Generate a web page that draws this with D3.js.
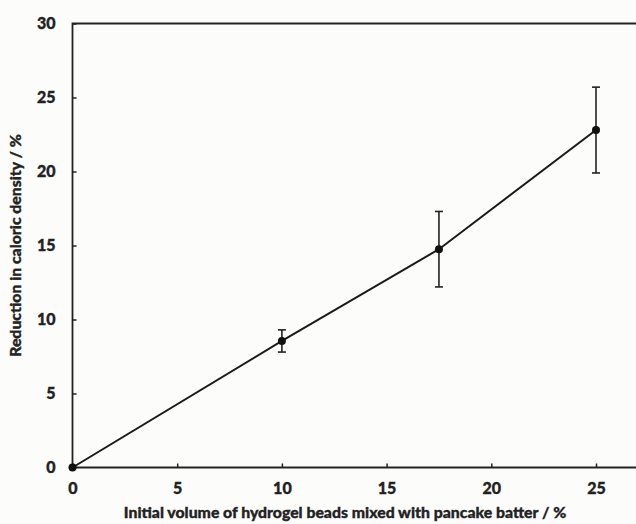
<!DOCTYPE html>
<html>
<head>
<meta charset="utf-8">
<script src="https://cdn.jsdelivr.net/npm/d3@7"></script>
<style>
  body { margin: 0; background: #fcfcfb; }
  svg { display: block; }
  text { font-family: Lato, "Open Sans", sans-serif; font-weight: 900; fill: #222; stroke: #222; stroke-width: 0.35px; }
</style>
</head>
<body>
<svg class="chart" width="636" height="524"></svg>
<script>
const volume = [0, 10, 17.5, 25];
const reduction = [0, 8.55, 14.75, 22.8];
const errors = [0, 0.75, 2.55, 2.9];
const xTicks = [0, 5, 10, 15, 20, 25];
const yTicks = [0, 5, 10, 15, 20, 25, 30];

(function drawChart(){
    const svg = d3.select("svg.chart");
    const W = +svg.attr("width");
    const left = 72.5, top = 23.5, bottom = 467.5;

    const x = d3.scaleLinear().domain([0, 25]).range([left, 596]);
    const y = d3.scaleLinear().domain([0, 30]).range([bottom, top]);
    const data = volume.map(function(v, i) { return {x: v, y: reduction[i], e: errors[i]}; });

    // axes frame (bottom, left, top) - the right side is cut off in the original
    const frame = svg.append("g").attr("stroke", "#222").attr("stroke-width", 1.8).attr("fill", "none");
    frame.append("path").attr("d", "M" + W + "," + top + "H" + left + "V" + bottom + "H" + W);

    const xAxis = svg.append("g")
        .attr("transform", "translate(0," + bottom + ")")
        .call(d3.axisBottom(x).tickValues(xTicks).tickSizeInner(-4).tickSizeOuter(0).tickPadding(15));
    xAxis.select(".domain").remove();
    xAxis.selectAll("line").attr("stroke", "#222").attr("stroke-width", 1.5);
    xAxis.selectAll("text").attr("font-size", 16).attr("fill", "#222").attr("font-family", null);

    const yAxis = svg.append("g")
        .attr("transform", "translate(" + left + ",0)")
        .call(d3.axisLeft(y).tickValues(yTicks).tickSizeInner(-4).tickSizeOuter(0).tickPadding(17));
    yAxis.select(".domain").remove();
    yAxis.selectAll("line").attr("stroke", "#222").attr("stroke-width", 1.5);
    yAxis.selectAll("text").attr("font-size", 16).attr("fill", "#222").attr("font-family", null);

    // error bars
    const eb = svg.append("g").attr("stroke", "#222").attr("stroke-width", 1.6);
    data.filter(function(d) { return d.e > 0; }).forEach(function(d) {
        const cx = x(d.x), y1 = y(d.y + d.e), y2 = y(d.y - d.e);
        eb.append("line").attr("x1", cx).attr("x2", cx).attr("y1", y1).attr("y2", y2);
        eb.append("line").attr("x1", cx - 4).attr("x2", cx + 4).attr("y1", y1).attr("y2", y1);
        eb.append("line").attr("x1", cx - 4).attr("x2", cx + 4).attr("y1", y2).attr("y2", y2);
    });

    const line = d3.line().x(function(d) { return x(d.x); }).y(function(d) { return y(d.y); });
    svg.append("path").datum(data)
        .attr("d", line)
        .attr("fill", "none")
        .attr("stroke", "#1a1a1a")
        .attr("stroke-width", 2);

    svg.selectAll(".pt").data(data).enter().append("circle")
        .attr("class", "pt")
        .attr("cx", function(d) { return x(d.x); })
        .attr("cy", function(d) { return y(d.y); })
        .attr("r", 4)
        .attr("fill", "#111");

    svg.append("text")
        .attr("x", 345).attr("y", 518)
        .attr("text-anchor", "middle")
        .attr("font-size", 15.8)
        .text("Initial volume of hydrogel beads mixed with pancake batter / %");

    svg.append("text")
        .attr("transform", "translate(21," + ((top + bottom) / 2) + ") rotate(-90)")
        .attr("text-anchor", "middle")
        .attr("font-size", 15.8)
        .text("Reduction in caloric density / %");
})();
</script>
</body>
</html>
